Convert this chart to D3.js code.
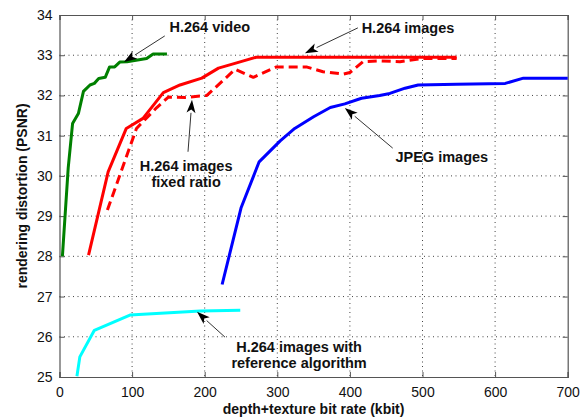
<!DOCTYPE html>
<html><head><meta charset="utf-8">
<script src="https://cdn.jsdelivr.net/npm/d3@7"></script>
<style>body{margin:0;background:#fff}svg{display:block}text{font-family:"Liberation Sans",Arial,sans-serif}</style>
</head><body><svg id="c" width="588" height="420"></svg>
<script>
const xTicks=[0,100,200,300,400,500,600,700];
const yTicks=[25,26,27,28,29,30,31,32,33,34];
const videoX=[4,12,18,26,33,42,48,54,63,69,76,83,93,120,129,148];
const videoY=[28,30.2,31.3,31.55,32.1,32.26,32.3,32.42,32.45,32.71,32.71,32.83,32.84,32.92,33.03,33.03];
const imgX=[40,67,92,115,143,166,196,219,244,271,547];
const imgY=[28.03,30.1,31.18,31.43,32.07,32.26,32.43,32.68,32.81,32.95,32.95];
const fixX=[66,106,134,150,173,203,242,267,299,340,363,391,400,418,441,469,501,547];
const fixY=[29.15,31.18,31.7,31.96,31.95,32.0,32.65,32.45,32.71,32.71,32.59,32.53,32.57,32.84,32.86,32.84,32.92,32.92];
const jpegX=[224,250,275,304,324,350,373,393,416,441,455,476,494,547,614,639,700];
const jpegY=[27.3,29.2,30.35,30.87,31.18,31.47,31.7,31.79,31.93,32.0,32.05,32.18,32.26,32.28,32.3,32.43,32.43];
const refX=[24,28,48,97,194,249];
const refY=[25.02,25.5,26.16,26.54,26.64,26.66];

const svg=d3.select("#c");
const L=59.5,R=567.7,T=15,B=377;
const x=d3.scaleLinear().domain([0,700]).range([L,R]);
const y=d3.scaleLinear().domain([25,34]).range([B,T]);

// grid
const g=svg.append("g");
g.selectAll(".gx").data(xTicks.slice(1,-1)).enter().append("line")
 .attr("x1",d=>x(d)).attr("x2",d=>x(d)).attr("y1",T).attr("y2",B)
 .attr("stroke","#444").attr("stroke-width",1).attr("stroke-dasharray","1,3.5");
g.selectAll(".gy").data(yTicks.slice(1,-1)).enter().append("line")
 .attr("y1",d=>y(d)).attr("y2",d=>y(d)).attr("x1",L).attr("x2",R)
 .attr("stroke","#444").attr("stroke-width",1).attr("stroke-dasharray","1,3.5");

// axes
const xa=svg.append("g").attr("transform",`translate(0,${B})`)
 .call(d3.axisBottom(x).tickValues(xTicks).tickSize(-5).tickPadding(10).tickFormat(d3.format("d")));
const xt=svg.append("g").attr("transform",`translate(0,${T})`)
 .call(d3.axisTop(x).tickValues(xTicks).tickSize(-5).tickFormat(""));
const ya=svg.append("g").attr("transform",`translate(${L},0)`)
 .call(d3.axisLeft(y).tickValues(yTicks).tickSize(-5).tickPadding(7).tickFormat(d3.format("d")));
const yr=svg.append("g").attr("transform",`translate(${R},0)`)
 .call(d3.axisRight(y).tickValues(yTicks).tickSize(-5).tickFormat(""));
[xa,xt,ya,yr].forEach(a=>{
  a.selectAll("path").attr("stroke","#555").attr("stroke-width",1.2);
  a.selectAll("line").attr("stroke","#555");
  a.selectAll("text").attr("font-size",14).attr("fill","#111").attr("font-family","'Liberation Sans',Arial,sans-serif");
});

// lines
const line=d3.line().x(d=>x(d[0])).y(d=>y(d[1]));
function draw(xs,ys,color,dash){
  svg.append("path").datum(xs.map((v,i)=>[v,ys[i]])).attr("d",line)
   .attr("fill","none").attr("stroke",color).attr("stroke-width",3)
   .attr("stroke-linejoin","round").attr("stroke-dasharray",dash||null);
}
draw(refX,refY,"#00ffff");
draw(jpegX,jpegY,"#0000ff");
draw(fixX,fixY,"#ff0000","9,5");
draw(imgX,imgY,"#ff0000");
draw(videoX,videoY,"#008000");

// annotations (data coordinates)
const arrows=[
 {tail:[145,33.48],tip:[88.8,32.83]},
 {tail:[411,33.68],tip:[338,33.05]},
 {tail:[177,30.6],tip:[182.5,31.89]},
 {tail:[459,30.69],tip:[393,31.69]},
 {tail:[228,25.99],tip:[189.4,26.62]}
];
const labels=[
 {x:207,y:33.58,t:"H.264 video"},
 {x:480,y:33.55,t:"H.264 images"},
 {x:174.4,y:30.13,t:"H.264 images"},
 {x:174.4,y:29.72,t:"fixed ratio"},
 {x:526.6,y:30.34,t:"JPEG images"},
 {x:330,y:25.63,t:"H.264 images with"},
 {x:330,y:25.22,t:"reference algorithm"}
];
arrows.forEach(a=>{
  const x0=x(a.tail[0]),y0=y(a.tail[1]),x1=x(a.tip[0]),y1=y(a.tip[1]);
  const ang=Math.atan2(y1-y0,x1-x0),len=13,w=4.5;
  const bx=x1-len*Math.cos(ang),by=y1-len*Math.sin(ang);
  svg.append("line").attr("x1",x0).attr("y1",y0).attr("x2",bx).attr("y2",by)
   .attr("stroke","#333").attr("stroke-width",1);
  const px=-Math.sin(ang),py=Math.cos(ang);
  svg.append("path").attr("d",`M${x1},${y1}L${bx+px*w},${by+py*w}L${bx+len*0.25*Math.cos(ang)},${by+len*0.25*Math.sin(ang)}L${bx-px*w},${by-py*w}Z`)
   .attr("fill","#000");
});
svg.selectAll(".lab").data(labels).enter().append("text")
 .attr("x",d=>x(d.x)).attr("y",d=>y(d.y)).attr("text-anchor","middle")
 .attr("font-size",14.5).attr("font-weight","bold").attr("fill","#111").text(d=>d.t);

// axis labels
svg.append("text").attr("x",(L+R)/2).attr("y",414).attr("text-anchor","middle")
 .attr("font-size",14).attr("font-weight","bold").attr("fill","#111").text("depth+texture bit rate (kbit)");
svg.append("text").attr("transform",`translate(27,${(T+B)/2}) rotate(-90)`).attr("text-anchor","middle")
 .attr("font-size",14).attr("font-weight","bold").attr("fill","#111").text("rendering distortion (PSNR)");
</script></body></html>
